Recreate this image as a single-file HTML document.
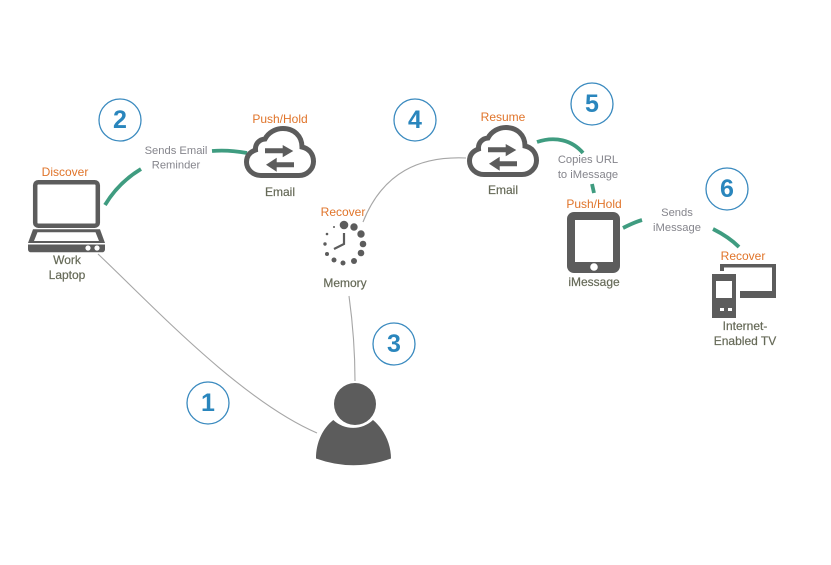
<!DOCTYPE html>
<html>
<head>
<meta charset="utf-8">
<style>
html,body{margin:0;padding:0;background:#fff;width:831px;height:565px;overflow:hidden}
svg{display:block}
text{font-family:"Liberation Sans",sans-serif;text-anchor:middle;dominant-baseline:central}
.o{font-size:12px;fill:#e0742a}
.d{font-size:12px;fill:#666a58;stroke:#666a58;stroke-width:.2px}
.g{font-size:11.2px;fill:#85858c}
.n{font-size:25px;font-weight:bold;fill:#2a86bd}
.c{fill:#fff;stroke:#3a8abf;stroke-width:1.3}
.thin{fill:none;stroke:#a6a6a6;stroke-width:1.1}
.gr{fill:none;stroke:#3f9c80;stroke-width:3.8}
.ic{fill:#5c5c5c}
</style>
</head>
<body>
<svg width="831" height="565" viewBox="0 0 831 565" xmlns="http://www.w3.org/2000/svg">
<defs>
<g id="cloud">
<path d="M17 49.500H55C63 49.500 69.500 43 69.500 35.500C69.500 28 65 22.500 58 21C58 10 50 2.500 39 2.500C31 2.500 24 7 21 13C15 13.500 11 18 11.500 24C6 26 2.500 30 2.500 36C2.500 43.500 9 49.500 17 49.500Z" fill="#fff" stroke="#5c5c5c" stroke-width="5"/>
<path class="ic" d="M21 22.300H38.700V19L49.300 25L38.700 31.300V27.300H21Z"/>
<path class="ic" d="M22 38.800L32.700 31.800V36.300H50V41.300H32.700V45.700Z"/>
</g>
</defs>

<!-- thin connectors -->
<path class="thin" d="M98 254C150 303 240 400 317 433"/>
<path class="thin" d="M349 296C353 325 355 350 355 381"/>
<path class="thin" d="M363 222C383 172 420 156 466 158"/>

<!-- green connectors -->
<path class="gr" d="M105 205C114 190 126 178 141 169"/>
<path class="gr" d="M212 151C225 150 236 151 247 153"/>
<path class="gr" d="M537 142C555 136 572 140 583 153"/>
<path class="gr" d="M592 184L594 193"/>
<path class="gr" d="M623 228C629 225 635 222 642 220"/>
<path class="gr" d="M713 229C723 234 732 240 739 247"/>

<!-- numbers -->
<circle class="c" cx="208" cy="403" r="21"/><text class="n" x="208" y="403">1</text>
<circle class="c" cx="120" cy="120" r="21"/><text class="n" x="120" y="120">2</text>
<circle class="c" cx="394" cy="344" r="21"/><text class="n" x="394" y="344">3</text>
<circle class="c" cx="415" cy="120" r="21"/><text class="n" x="415" y="120">4</text>
<circle class="c" cx="592" cy="104" r="21"/><text class="n" x="592" y="104">5</text>
<circle class="c" cx="727" cy="189" r="21"/><text class="n" x="727" y="189">6</text>

<!-- laptop -->
<rect x="35.200" y="182.200" width="62.600" height="43.500" rx="3" fill="#fff" stroke="#5c5c5c" stroke-width="4.500"/>
<path class="ic" d="M33 229.300H100L105 243H28Z"/>
<path fill="#fff" d="M37.500 232.300H95.500L99 241H34Z"/>
<path class="ic" d="M28 244.500H105V249C105 251 104 252.300 102 252.300H31C29 252.300 28 251 28 249Z"/>
<circle cx="88" cy="248" r="2.600" fill="#fff"/>
<circle cx="97" cy="248" r="2.600" fill="#fff"/>
<text class="o" x="65" y="172">Discover</text>
<text class="d" x="67" y="260">Work</text>
<text class="d" x="67" y="275">Laptop</text>

<text class="g" x="176" y="151">Sends Email</text>
<text class="g" x="176" y="165.500">Reminder</text>

<!-- cloud 1 -->
<use href="#cloud" x="244" y="126"/>
<text class="o" x="280" y="119">Push/Hold</text>
<text class="d" x="280" y="192">Email</text>

<!-- clock -->
<g class="ic">
<circle cx="344" cy="225" r="4.300"/><circle cx="354" cy="227" r="3.700"/>
<circle cx="361" cy="234" r="3.700"/><circle cx="363" cy="244" r="3.300"/>
<circle cx="361" cy="253" r="3.300"/><circle cx="354" cy="261" r="3"/>
<circle cx="343" cy="263" r="2.500"/><circle cx="334" cy="260" r="2.500"/>
<circle cx="327" cy="254" r="2"/><circle cx="325" cy="244" r="1.700"/>
<circle cx="327" cy="234" r="1.300"/><circle cx="334" cy="227" r="1"/>
</g>
<path d="M344 233V244L334 249" fill="none" stroke="#5c5c5c" stroke-width="2.200"/>
<text class="o" x="343" y="212">Recover</text>
<text class="d" x="345" y="283">Memory</text>

<!-- cloud 2 -->
<use href="#cloud" x="467" y="125"/>
<text class="o" x="503" y="117">Resume</text>
<text class="d" x="503" y="190">Email</text>

<text class="g" x="588" y="160">Copies URL</text>
<text class="g" x="588" y="175">to iMessage</text>

<!-- tablet -->
<rect class="ic" x="567" y="212" width="53" height="61" rx="7"/>
<rect x="575" y="220" width="38" height="42" fill="#fff"/>
<circle cx="594" cy="267" r="3.800" fill="#fff"/>
<text class="o" x="594" y="204">Push/Hold</text>
<text class="d" x="594" y="282">iMessage</text>

<text class="g" x="677" y="213">Sends</text>
<text class="g" x="677" y="228">iMessage</text>

<!-- TV + phone -->
<path class="ic" d="M720 264H776V298H740V291H772V267.500H724V271H720Z"/>
<rect class="ic" x="712" y="274" width="24" height="44"/>
<rect x="716" y="281" width="16" height="17" fill="#fff"/>
<rect x="720" y="308" width="4" height="3" fill="#fff"/>
<rect x="728" y="308" width="4" height="3" fill="#fff"/>
<text class="o" x="743" y="256">Recover</text>
<text class="d" x="745" y="326">Internet-</text>
<text class="d" x="745" y="341">Enabled TV</text>

<!-- person -->
<circle class="ic" cx="355" cy="404" r="21"/>
<path class="ic" d="M316 458.500C316 442 323 428 333.300 420A29 29 0 0 0 373 420C385 430 391 445 391 458.500Q353.500 472 316 458.500Z"/>
</svg>
</body>
</html>
